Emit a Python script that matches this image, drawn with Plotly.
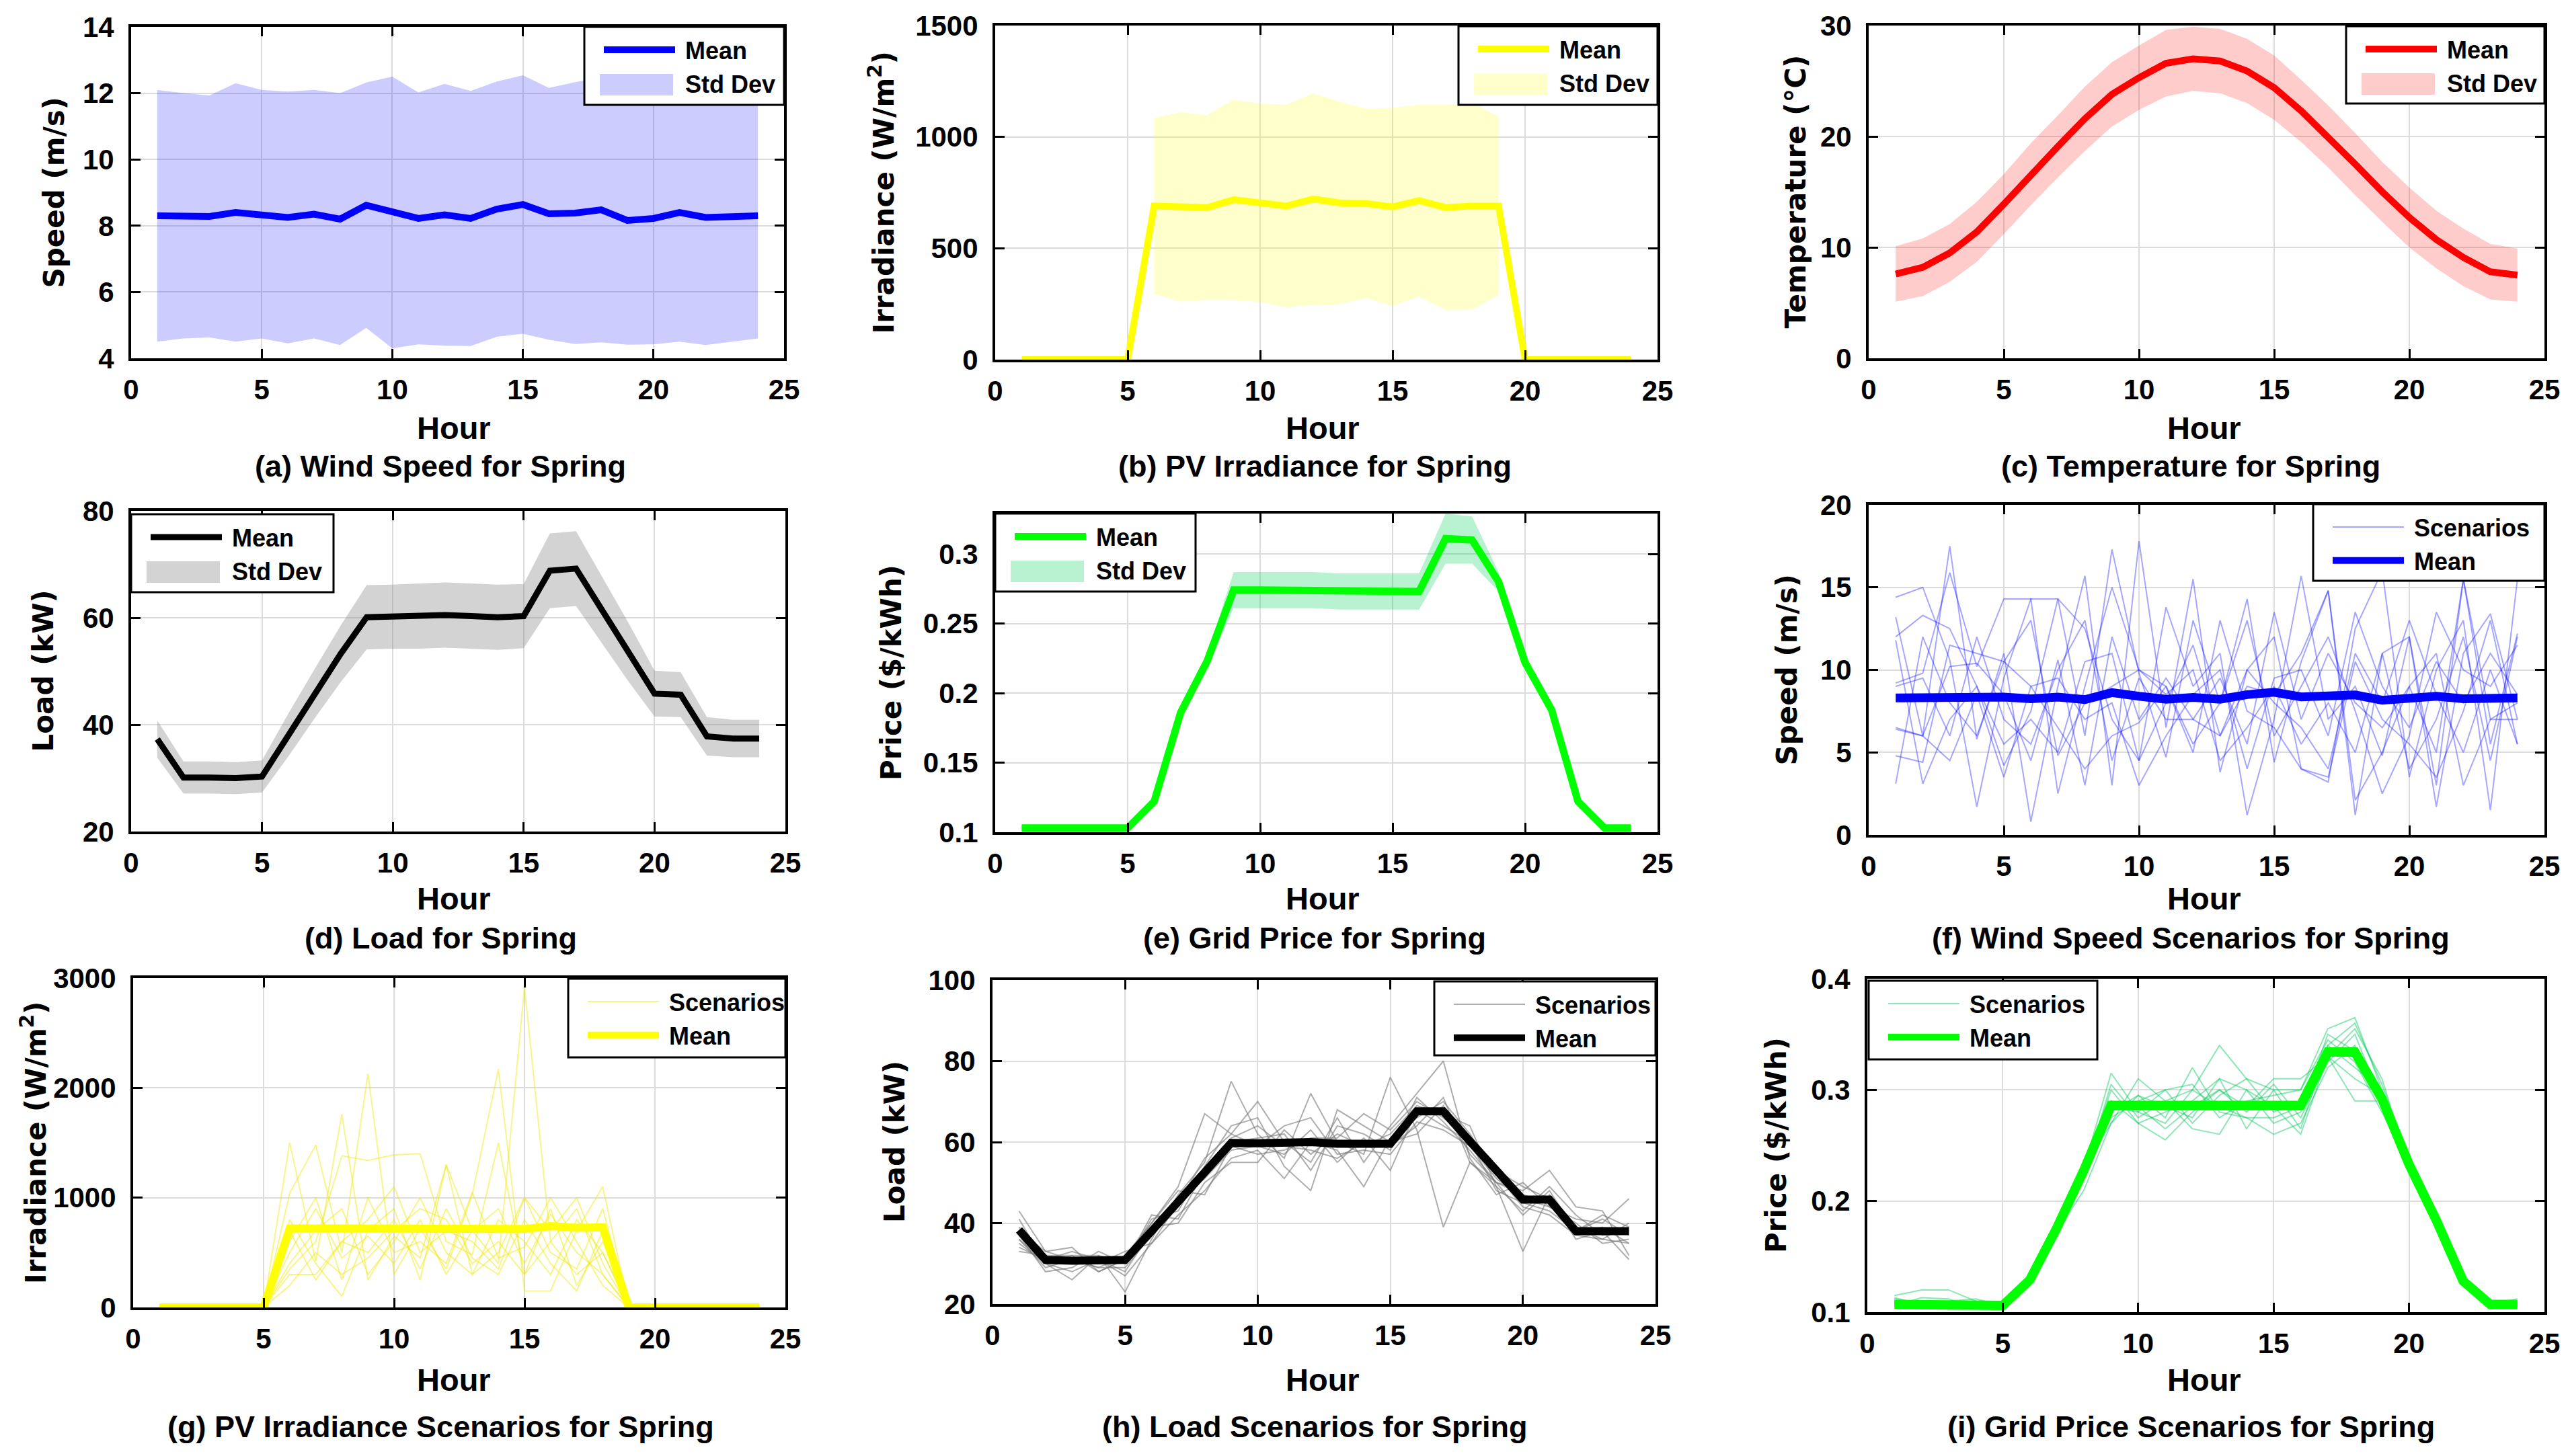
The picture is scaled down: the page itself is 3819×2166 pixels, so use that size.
import plotly.graph_objects as go

W, H = 3819, 2166
OFF = 8  # the page body adds an 8 px margin around the figure

hours = list(range(1, 25))

# (a) / (f) wind speed, m/s
wind_mean = [8.30, 8.30, 8.28, 8.40, 8.35, 8.25, 8.35, 8.20, 8.62, 8.40, 8.22, 8.33, 8.22, 8.50, 8.64, 8.36, 8.38, 8.48, 8.16, 8.22, 8.40, 8.25, 8.30, 8.30]
wind_std = [3.8, 3.7, 3.65, 3.9, 3.75, 3.8, 3.75, 3.8, 3.7, 4.1, 3.8, 3.95, 3.85, 3.85, 3.9, 3.8, 3.95, 4.0, 3.75, 3.8, 3.9, 3.85, 3.8, 3.7]

# (b) PV irradiance, W/m2
pv_mean = [0, 0, 0, 0, 0, 690, 686, 683, 718, 704, 690, 721, 704, 701, 686, 714, 683, 690, 690, 0, 0, 0, 0, 0]
pv_std = [0, 0, 0, 0, 0, 395, 425, 415, 450, 445, 455, 475, 455, 425, 445, 430, 460, 465, 400, 0, 0, 0, 0, 0]

# (c) temperature, degC
temp_mean = [7.6, 8.2, 9.5, 11.4, 13.9, 16.6, 19.1, 21.6, 23.8, 25.3, 26.6, 27.0, 26.8, 25.9, 24.4, 22.3, 20.0, 17.5, 15.0, 12.7, 10.7, 9.1, 7.8, 7.5]
temp_std = [2.5, 2.6, 2.6, 2.7, 2.7, 2.8, 2.8, 2.9, 2.9, 2.9, 3.0, 2.9, 2.9, 2.9, 2.9, 2.8, 2.8, 2.8, 2.7, 2.7, 2.6, 2.6, 2.5, 2.4]

# (d) load, kW
load_mean = [37.3, 30.1, 30.1, 30.0, 30.3, 38.0, 45.7, 53.2, 60.1, 60.2, 60.3, 60.5, 60.3, 60.1, 60.3, 68.8, 69.2, 61.4, 53.6, 45.8, 45.6, 37.8, 37.4, 37.4]
load_std = [3.5, 3.0, 3.0, 3.0, 3.0, 4.0, 4.6, 5.3, 6.0, 6.0, 6.1, 6.1, 6.1, 6.1, 6.0, 7.0, 7.0, 6.3, 5.5, 4.3, 4.2, 3.6, 3.5, 3.5]

# (e) grid price, $/kWh
price_mean = [0.103, 0.103, 0.103, 0.103, 0.103, 0.122, 0.186, 0.223, 0.274, 0.274, 0.274, 0.274, 0.273, 0.273, 0.273, 0.273, 0.311, 0.310, 0.280, 0.222, 0.188, 0.122, 0.103, 0.103]
price_std = [0.002, 0.002, 0.002, 0.002, 0.002, 0.003, 0.004, 0.005, 0.013, 0.013, 0.013, 0.013, 0.013, 0.013, 0.013, 0.013, 0.018, 0.017, 0.007, 0.004, 0.004, 0.003, 0.002, 0.002]

# (f) wind speed scenarios
wind_scen = [
    [14.4, 15.0, 10.6, 1.7, 9.5, 14.3, 14.3, 6.0, 17.3, 9.8, 4.7, 13.0, 8.0, 14.3, 4.4, 10.5, 14.8, 1.2, 11.0, 12.0, 3.0, 15.5, 5.5, 12.2],
    [13.2, 6.0, 17.5, 5.8, 11.0, 0.8, 9.0, 15.7, 3.0, 17.8, 6.5, 15.5, 3.8, 10.0, 12.0, 4.0, 3.2, 12.5, 16.0, 3.5, 10.0, 13.0, 1.5, 15.5],
    [12.0, 13.3, 12.5, 9.0, 4.2, 7.5, 14.3, 12.5, 7.0, 4.5, 13.8, 9.0, 11.0, 1.2, 7.0, 15.7, 7.0, 9.0, 4.8, 12.0, 1.7, 11.0, 13.4, 7.0],
    [9.2, 9.8, 15.9, 10.2, 14.3, 14.3, 2.5, 9.0, 15.0, 10.0, 9.0, 5.5, 8.0, 13.0, 6.0, 9.0, 12.0, 7.5, 2.5, 6.0, 13.5, 10.0, 9.0, 11.5],
    [6.5, 6.0, 10.2, 10.4, 8.5, 4.5, 10.6, 3.0, 12.0, 7.0, 9.5, 7.0, 6.0, 9.0, 8.5, 11.0, 14.8, 2.1, 5.0, 9.0, 5.0, 15.5, 7.0, 8.0],
    [4.8, 4.4, 11.5, 11.0, 10.5, 9.0, 6.5, 4.0, 6.0, 6.8, 9.0, 5.0, 13.0, 7.5, 6.5, 4.0, 3.5, 10.5, 7.0, 5.5, 3.5, 7.5, 13.0, 5.5],
    [3.1, 12.0, 8.0, 6.0, 10.5, 13.0, 4.8, 8.0, 9.0, 10.0, 8.5, 10.0, 4.5, 6.5, 9.0, 5.5, 8.0, 5.0, 11.0, 4.0, 7.0, 12.0, 4.5, 12.0],
    [9.0, 9.5, 6.0, 12.0, 7.0, 5.5, 10.0, 13.0, 4.5, 9.5, 7.0, 7.0, 9.5, 5.5, 13.5, 7.0, 11.0, 8.0, 6.5, 9.0, 11.0, 3.0, 7.0, 7.0],
    [11.8, 3.1, 7.0, 9.0, 5.5, 7.0, 5.0, 10.5, 11.0, 4.5, 8.0, 11.5, 6.0, 10.0, 8.0, 6.5, 4.0, 11.0, 8.0, 13.0, 8.5, 5.0, 10.0, 5.5],
    [6.4, 6.0, 4.5, 8.5, 3.5, 9.0, 9.5, 7.0, 8.0, 3.0, 6.0, 8.5, 10.0, 4.0, 9.5, 10.0, 6.0, 13.5, 9.0, 6.5, 10.5, 8.0, 11.0, 8.5],
]

# (g) PV irradiance scenarios (daylight hours 6-18, zero otherwise)
pv_scen_day = [
    [1500, 420, 1760, 250, 650, 450, 1300, 700, 400, 2920, 600, 300, 500],
    [1040, 1480, 500, 2130, 300, 720, 350, 1030, 2170, 150, 150, 700, 1100],
    [350, 600, 1380, 1340, 1390, 1400, 600, 480, 1500, 300, 900, 200, 600],
    [800, 400, 100, 700, 900, 250, 1300, 300, 500, 1000, 700, 1000, 400],
    [500, 900, 450, 650, 400, 800, 300, 700, 900, 400, 850, 500, 300],
    [300, 300, 600, 500, 800, 350, 900, 450, 300, 800, 400, 150, 700],
    [600, 1000, 250, 1000, 500, 600, 400, 1050, 450, 550, 1000, 600, 200],
    [400, 700, 900, 300, 600, 1000, 500, 300, 800, 600, 300, 800, 500],
    [700, 250, 600, 800, 1100, 500, 700, 600, 350, 1000, 500, 350, 900],
    [200, 500, 300, 450, 700, 900, 800, 400, 600, 300, 600, 900, 300],
]
pv_scen_mean = [0, 0, 0, 0, 0, 720, 720, 715, 725, 720, 730, 725, 725, 730, 715, 740, 725, 730, 0, 0, 0, 0, 0, 0]

# (h) load scenarios
load_scen = [
    [43, 33, 34, 28, 31, 40, 49, 67, 62, 70, 60, 55, 66, 55, 64, 72, 80, 56, 47, 50, 44, 41, 40, 46],
    [35, 30, 26, 32, 23, 36, 47, 55, 75, 62, 56, 72, 60, 57, 76, 63, 39, 55, 49, 33, 47, 39, 36, 35],
    [36, 29, 31, 29, 29, 37, 44, 52, 60, 61, 62, 53, 64, 62, 58, 71, 65, 58, 50, 48, 53, 44, 43, 32],
    [39, 32, 30, 30, 33, 35, 42, 48, 56, 58, 51, 60, 58, 49, 61, 66, 70, 62, 52, 44, 42, 37, 36, 40],
    [34, 31, 33, 31, 28, 38, 46, 51, 58, 59, 57, 63, 55, 61, 53, 68, 64, 60, 48, 45, 43, 38, 41, 37],
    [37, 28, 29, 33, 30, 41, 43, 54, 64, 66, 54, 48, 68, 64, 60, 62, 69, 57, 50, 47, 45, 37, 39, 35],
    [33, 32, 32, 28, 31, 39, 40, 50, 55, 55, 63, 57, 62, 59, 62, 69, 67, 64, 49, 43, 49, 42, 37, 38],
    [41, 30, 28, 31, 27, 35, 45, 56, 62, 59, 64, 66, 57, 58, 57, 65, 63, 59, 51, 46, 44, 40, 35, 36],
    [38, 33, 31, 29, 32, 40, 48, 47, 59, 57, 58, 61, 61, 67, 63, 70, 66, 61, 53, 49, 46, 36, 38, 31],
    [36, 30, 32, 32, 30, 42, 41, 53, 61, 64, 59, 58, 56, 60, 59, 64, 71, 55, 50, 42, 48, 38, 42, 39],
]
load_scen_mean = [38.3, 30.9, 30.7, 30.7, 30.9, 38.0, 45.5, 53.0, 59.8, 59.7, 59.8, 60.0, 59.6, 59.5, 59.6, 67.6, 67.6, 60.2, 52.8, 45.8, 45.8, 38.0, 38.0, 38.0]

# (i) grid price scenarios
price_scen = [
    [0.115, 0.120, 0.120, 0.110, 0.105, 0.130, 0.180, 0.230, 0.315, 0.280, 0.270, 0.300, 0.340, 0.310, 0.300, 0.300, 0.355, 0.365, 0.300, 0.235, 0.185, 0.130, 0.107, 0.112],
    [0.110, 0.110, 0.108, 0.105, 0.107, 0.128, 0.175, 0.225, 0.290, 0.270, 0.255, 0.280, 0.300, 0.285, 0.310, 0.310, 0.330, 0.290, 0.290, 0.230, 0.180, 0.127, 0.105, 0.108],
    [0.108, 0.105, 0.110, 0.112, 0.106, 0.130, 0.172, 0.210, 0.270, 0.310, 0.290, 0.265, 0.260, 0.300, 0.270, 0.280, 0.350, 0.335, 0.295, 0.240, 0.190, 0.130, 0.110, 0.107],
    [0.112, 0.108, 0.106, 0.108, 0.104, 0.127, 0.178, 0.232, 0.280, 0.295, 0.275, 0.320, 0.280, 0.275, 0.260, 0.270, 0.320, 0.340, 0.285, 0.228, 0.182, 0.126, 0.106, 0.106],
    [0.106, 0.113, 0.112, 0.104, 0.108, 0.131, 0.174, 0.227, 0.300, 0.270, 0.280, 0.290, 0.310, 0.265, 0.300, 0.265, 0.340, 0.320, 0.300, 0.238, 0.186, 0.129, 0.108, 0.105],
    [0.109, 0.107, 0.105, 0.110, 0.105, 0.128, 0.177, 0.229, 0.275, 0.290, 0.300, 0.270, 0.295, 0.310, 0.280, 0.290, 0.330, 0.355, 0.310, 0.232, 0.180, 0.128, 0.107, 0.109],
    [0.107, 0.109, 0.107, 0.106, 0.106, 0.129, 0.173, 0.226, 0.285, 0.280, 0.300, 0.305, 0.275, 0.290, 0.295, 0.300, 0.345, 0.325, 0.280, 0.231, 0.184, 0.127, 0.106, 0.107],
    [0.110, 0.106, 0.109, 0.107, 0.107, 0.130, 0.179, 0.233, 0.290, 0.285, 0.265, 0.285, 0.300, 0.280, 0.305, 0.275, 0.325, 0.350, 0.290, 0.236, 0.187, 0.131, 0.109, 0.106],
    [0.108, 0.110, 0.106, 0.109, 0.106, 0.129, 0.175, 0.230, 0.270, 0.295, 0.285, 0.275, 0.310, 0.300, 0.285, 0.260, 0.330, 0.310, 0.295, 0.234, 0.181, 0.128, 0.108, 0.108],
    [0.113, 0.107, 0.108, 0.105, 0.107, 0.128, 0.176, 0.225, 0.305, 0.275, 0.290, 0.300, 0.285, 0.275, 0.275, 0.285, 0.340, 0.360, 0.305, 0.237, 0.183, 0.129, 0.107, 0.110],
]
price_scen_mean = [0.107, 0.107, 0.107, 0.107, 0.106, 0.129, 0.176, 0.228, 0.286, 0.286, 0.286, 0.286, 0.286, 0.286, 0.286, 0.286, 0.334, 0.334, 0.292, 0.233, 0.183, 0.128, 0.107, 0.107]

pv_scen = [[0] * 5 + day + [0] * 6 for day in pv_scen_day]

SANS = 'Liberation Sans, Arial, sans-serif'
WIDE = 'DejaVu Sans, Verdana, sans-serif'
PAD = '\u00a0'  # a little air between legend sample and label


def fx(p):
    return (p - OFF) / W


def fy(p):
    return 1 - (p - OFF) / H


# plot boxes in pixels: left, right, top, bottom
panels = [
    dict(box=(195, 1166, 40, 533), yr=[4, 14], dt=2, ytitle='Speed (m/s)', ytx=80,
         cap='(a) Wind Speed for Spring', leg=(869, 1166, 40, 156),
         kind='band', mean=wind_mean, std=wind_std, color='#0000ff', fill='rgba(0,0,255,0.2)', lw=10),
    dict(box=(1480, 2465, 38, 535), yr=[0, 1500], dt=500, ytitle='Irradiance (W/m<sup>2</sup>)', ytx=1312,
         cap='(b) PV Irradiance for Spring', leg=(2169, 2465, 39, 156),
         kind='band', mean=pv_mean, std=pv_std, color='#ffff00', fill='rgba(255,255,0,0.2)', lw=10),
    dict(box=(2779, 3784, 38, 533), yr=[0, 30], dt=10, ytitle='Temperature (°C)', ytx=2670,
         cap='(c) Temperature for Spring', leg=(3489, 3784, 39, 154),
         kind='band', mean=temp_mean, std=temp_std, color='#ff0000', fill='rgba(255,0,0,0.2)', lw=10),
    dict(box=(195, 1168, 760, 1237), yr=[20, 80], dt=20, ytitle='Load (kW)', ytx=64,
         cap='(d) Load for Spring', leg=(195, 496, 765, 881),
         kind='band', mean=load_mean, std=load_std, color='#000000', fill='rgba(128,128,128,0.35)', lw=9),
    dict(box=(1480, 2465, 764, 1238), yr=[0.1, 0.329], dt=0.05, ytitle='Price ($/kWh)', ytx=1326,
         cap='(e) Grid Price for Spring', leg=(1480, 1778, 764, 880),
         kind='band', mean=price_mean, std=price_std, color='#00ff00', fill='rgba(0,210,90,0.28)', lw=11),
    dict(box=(2779, 3784, 751, 1242), yr=[0, 20], dt=5, ytitle='Speed (m/s)', ytx=2657,
         cap='(f) Wind Speed Scenarios for Spring', leg=(3440, 3784, 750, 864),
         kind='scen', mean=wind_mean, scen=wind_scen, color='#0000ff', thin='rgba(0,0,255,0.35)', lw=13),
    dict(box=(198, 1168, 1455, 1945), yr=[0, 3000], dt=1000, ytitle='Irradiance (W/m<sup>2</sup>)', ytx=50,
         cap='(g) PV Irradiance Scenarios for Spring', leg=(845, 1168, 1456, 1573),
         kind='scen', mean=pv_scen_mean, scen=pv_scen, color='#ffff00', thin='rgba(240,230,0,0.45)', lw=12),
    dict(box=(1476, 2462, 1458, 1940), yr=[20, 100], dt=20, ytitle='Load (kW)', ytx=1330,
         cap='(h) Load Scenarios for Spring', leg=(2133, 2462, 1460, 1570),
         kind='scen', mean=load_scen_mean, scen=load_scen, color='#000000', thin='rgba(120,120,120,0.6)', lw=12),
    dict(box=(2777, 3784, 1456, 1952), yr=[0.1, 0.4], dt=0.1, ytitle='Price ($/kWh)', ytx=2641,
         cap='(i) Grid Price Scenarios for Spring', leg=(2779, 3119, 1459, 1576),
         kind='scen', mean=price_scen_mean, scen=price_scen, color='#00ff00', thin='rgba(0,200,90,0.45)', lw=14),
]

row_text_y = [(636, 693), (1336, 1395), (2052, 2122)]
col_hour_x = [675, 1967, 3278]
col_cap_x = [655, 1955, 3258]

fig = go.Figure()
layout = dict(width=W, height=H, margin=dict(l=0, r=0, t=0, b=0, autoexpand=False),
              paper_bgcolor='white', plot_bgcolor='white', showlegend=True)
annotations = []
shapes = []

for i, p in enumerate(panels):
    k = i + 1
    sfx = '' if k == 1 else str(k)
    xa, ya = 'x' + sfx, 'y' + sfx
    leg = 'legend' + sfx
    l, r, t, b = p['box']

    common = dict(showline=True, mirror='ticks', linecolor='black', linewidth=4,
                  ticks='inside', ticklen=14, tickwidth=3, tickcolor='black',
                  showgrid=True, gridcolor='#dcdcdc', gridwidth=2, zeroline=False,
                  tickfont=dict(family=SANS, size=42, color='black', weight='bold'))
    layout['xaxis' + sfx] = dict(common, domain=[fx(l), fx(r)], range=[0, 25], dtick=5, tick0=0,
                                 anchor=ya, ticklabelstandoff=7)
    layout['yaxis' + sfx] = dict(common, domain=[fy(b), fy(t)], range=p['yr'], dtick=p['dt'],
                                 tick0=p['yr'][0], anchor=xa, ticklabelstandoff=13)

    ll, lr, lt, lb = p['leg']
    shapes.append(dict(type='rect', xref='paper', yref='paper', x0=fx(ll), x1=fx(lr),
                       y0=fy(lb), y1=fy(lt), fillcolor='white',
                       line=dict(color='black', width=3), layer='above'))

    if p['kind'] == 'band':
        pts = [(h, m, s) for h, m, s in zip(hours, p['mean'], p['std']) if s > 0]
        bx = [h for h, _, _ in pts]
        up = [m + s for _, m, s in pts]
        lo = [max(m - s, 0) for _, m, s in pts]
        fig.add_trace(go.Scatter(x=bx + bx[::-1], y=up + lo[::-1], fill='toself',
                                 fillcolor=p['fill'], line=dict(width=0), mode='lines',
                                 showlegend=False, hoverinfo='skip', xaxis=xa, yaxis=ya))
        fig.add_trace(go.Scatter(x=hours, y=p['mean'], mode='lines', name=PAD + 'Mean',
                                 line=dict(color=p['color'], width=p['lw']),
                                 legend=leg, legendgroup='mean' + sfx, legendrank=1,
                                 xaxis=xa, yaxis=ya))
        # legend entry for the band; its patch is drawn as a shape below
        fig.add_trace(go.Scatter(x=[None], y=[None], mode='lines', name=PAD + 'Std Dev',
                                 line=dict(color='rgba(0,0,0,0)', width=1),
                                 legend=leg, legendgroup='std' + sfx, legendrank=2,
                                 xaxis=xa, yaxis=ya))
        shapes.append(dict(type='rect', xref='paper', yref='paper', x0=fx(ll + 23), x1=fx(ll + 132),
                           y0=fy(lt + 102), y1=fy(lt + 70), fillcolor=p['fill'],
                           line=dict(width=0), layer='above'))
    else:
        for j, s in enumerate(p['scen']):
            fig.add_trace(go.Scatter(x=hours, y=s, mode='lines', name=PAD + 'Scenarios',
                                     line=dict(color=p['thin'], width=2),
                                     legend=leg, legendgroup='scen' + sfx, showlegend=(j == 0),
                                     legendrank=1, xaxis=xa, yaxis=ya))
        fig.add_trace(go.Scatter(x=hours, y=p['mean'], mode='lines', name=PAD + 'Mean',
                                 line=dict(color=p['color'], width=p['lw']),
                                 legend=leg, legendgroup='mean' + sfx, legendrank=2,
                                 xaxis=xa, yaxis=ya))

    layout[leg] = dict(x=fx(ll + 24), y=fy(lt + 4), xanchor='left', yanchor='top',
                       bgcolor='rgba(0,0,0,0)', borderwidth=0, itemwidth=106,
                       tracegroupgap=0,
                       font=dict(family=SANS, size=36, color='black', weight='bold'))

    row, col = i // 3, i % 3
    hy, cy = row_text_y[row]
    annotations.append(dict(text='Hour', x=fx(col_hour_x[col]), y=fy(hy), xref='paper', yref='paper',
                            showarrow=False, xanchor='center', yanchor='middle',
                            font=dict(family=SANS, size=47, color='black', weight='bold')))
    annotations.append(dict(text=p['cap'], x=fx(col_cap_x[col]), y=fy(cy), xref='paper', yref='paper',
                            showarrow=False, xanchor='center', yanchor='middle',
                            font=dict(family=SANS, size=45, color='black', weight='bold')))
    annotations.append(dict(text=p['ytitle'], x=fx(p['ytx']), y=fy((t + b) / 2), xref='paper',
                            yref='paper', showarrow=False, xanchor='center', yanchor='middle',
                            textangle=-90,
                            font=dict(family=WIDE, size=42, color='black', weight='bold')))

layout['annotations'] = annotations
layout['shapes'] = shapes
fig.update_layout(**layout)

fig.write_html('out.html')
